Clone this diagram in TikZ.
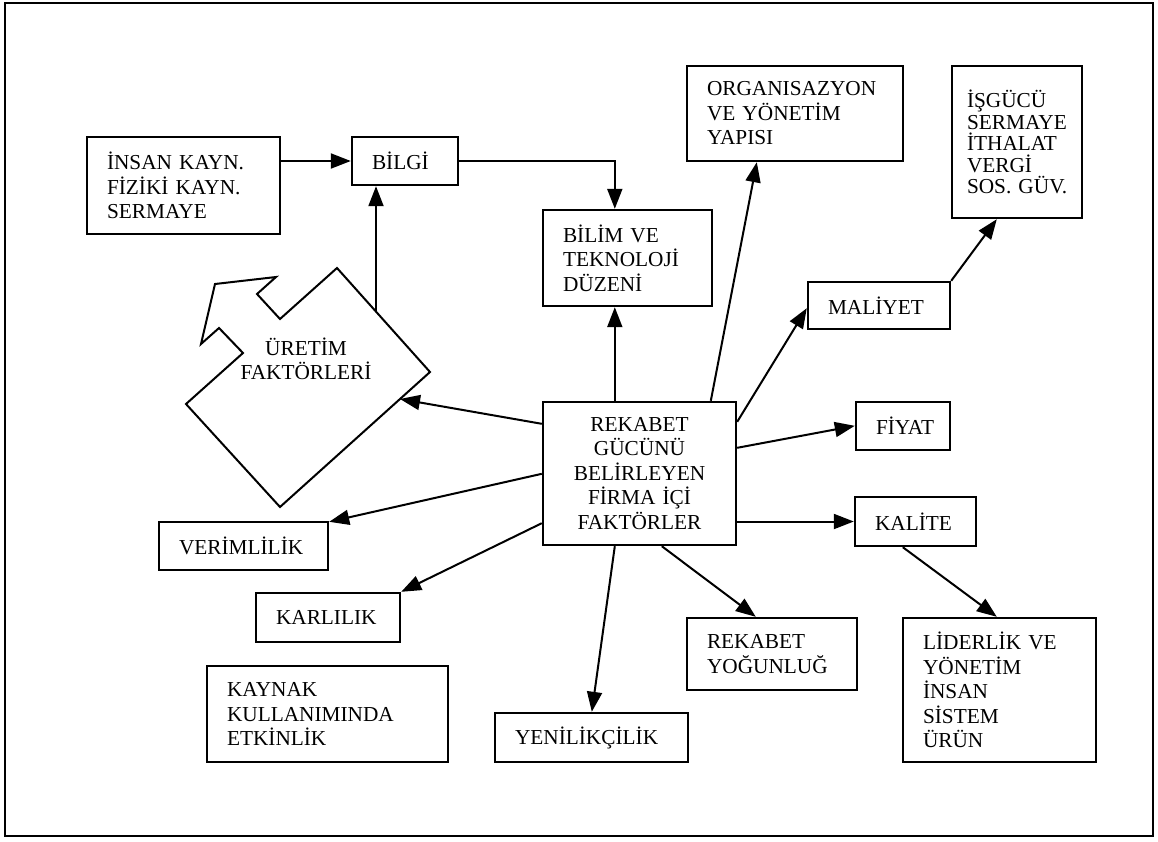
\documentclass[tikz,border=0pt]{standalone}
\usepackage{fontspec}
\setmainfont{Liberation Serif}
\usetikzlibrary{arrows.meta,calc}
\begin{document}
\begin{tikzpicture}[x=1pt,y=-1pt,
  bx/.style={draw, line width=2.4pt, inner xsep=20pt, inner ysep=0pt, align=left,
    font=\fontsize{21.3}{24.5}\selectfont},
  arr/.style={line width=2pt, -{Triangle[length=20pt,width=15pt]}},
  shp/.style={line width=2pt, line join=miter}]
\useasboundingbox (0,0) rectangle (1158,841);
\draw[line width=2.6pt] (5,3) rectangle (1153,836);

\node[bx, text width=153pt, minimum height=97pt] (insan) at (183.5,185.5) {İNSAN~KAYN.\\FİZİKİ~KAYN.\\SERMAYE};
\node[bx, text width=66pt, minimum height=48pt] (bilgi) at (405,161) {BİLGİ};
\node[bx, text width=129pt, minimum height=96pt] (bilim) at (627.5,258) {BİLİM~VE\\TEKNOLOJİ\\DÜZENİ};
\node[bx, align=center, inner xsep=5pt, text width=183pt, minimum height=143pt] (rek) at (639.5,473.5) {REKABET\\GÜCÜNÜ\\BELİRLEYEN\\FİRMA~İÇİ\\FAKTÖRLER};
\node[bx, text width=176pt, minimum height=95pt] (org) at (795,113.5) {ORGANISAZYON\\VE~YÖNETİM\\YAPISI};
\node[bx, inner xsep=15pt, text width=100pt, minimum height=152pt, font=\fontsize{21.3}{21.5}\selectfont] (isg) at (1017,142) {İŞGÜCÜ\\SERMAYE\\İTHALAT\\VERGİ\\SOS.~GÜV.};
\node[bx, text width=102pt, minimum height=47pt] (mal) at (879,305.5) {MALİYET};
\node[bx, text width=54pt, minimum height=48pt] (fiy) at (903,426) {FİYAT};
\node[bx, text width=81pt, minimum height=49pt] (kal) at (915.5,521.5) {KALİTE};
\node[bx, text width=153pt, minimum height=144pt] (lid) at (999.5,690) {LİDERLİK~VE\\YÖNETİM\\İNSAN\\SİSTEM\\ÜRÜN};
\node[bx, text width=130pt, minimum height=72pt] (yog) at (772,654) {REKABET\\YOĞUNLUĞ};
\node[bx, text width=153pt, minimum height=49pt] (yen) at (591.5,737.5) {YENİLİKÇİLİK};
\node[bx, text width=201pt, minimum height=96pt] (kay) at (327.5,714) {KAYNAK\\KULLANIMINDA\\ETKİNLİK};
\node[bx, text width=104pt, minimum height=49pt] (kar) at (328,617.5) {KARLILIK};
\node[bx, text width=129pt, minimum height=48pt] (ver) at (243.5,546) {VERİMLİLİK};

% Üretim faktörleri shape
\draw[shp] (337,268) -- (430,372) -- (280,507) -- (186,404) -- (243,353) -- (219,328)
  -- (201,344) -- (215,284) -- (276,277) -- (257,294) -- (280,319) -- cycle;
\node[align=center, inner sep=0pt, font=\fontsize{21.3}{24.5}\selectfont] (uret) at (306,359) {ÜRETİM\\FAKTÖRLERİ};
\coordinate (uf1) at (376,311);
\coordinate (uf2) at (400,399);

% connectors
\draw[arr] (insan.east |- bilgi.west) -- (bilgi.west);
\draw[arr] (bilgi.east) -| ($(bilim.north west)+(73,0)$);
\draw[arr] (uf1) -- (bilgi.south -| uf1);
\draw[arr] ($(rek.north west)+(73,0)$) -- ($(bilim.south west)+(73,0)$);
\draw[arr] ($(rek.north west)+(169,0)$) -- ($(org.south west)+(71,0)$);
\draw[arr] ($(rek.north east)+(0,21)$) -- ($(mal.south west)+(0,-22)$);
\draw[arr] (mal.north east) -- ($(isg.south west)+(46,0)$);
\draw[arr] ($(rek.north east)+(0,47)$) -- ($(fiy.north west)+(0,25)$);
\draw[arr] (rek.east |- kal.west) -- (kal.west);
\draw[arr] ($(kal.south west)+(49,0)$) -- ($(lid.north west)+(95,0)$);
\draw[arr] ($(rek.south west)+(120,0)$) -- ($(yog.north west)+(70,0)$);
\draw[arr] ($(rek.south west)+(73,0)$) -- ($(yen.north west)+(98,0)$);
\draw[arr] ($(rek.south west)+(0,-23)$) -- (kar.north east);
\draw[arr] ($(rek.north west)+(0,73)$) -- ($(ver.north east)+(0,1)$);
\draw[arr] ($(rek.north west)+(0,23)$) -- (uf2);
\end{tikzpicture}
\end{document}
